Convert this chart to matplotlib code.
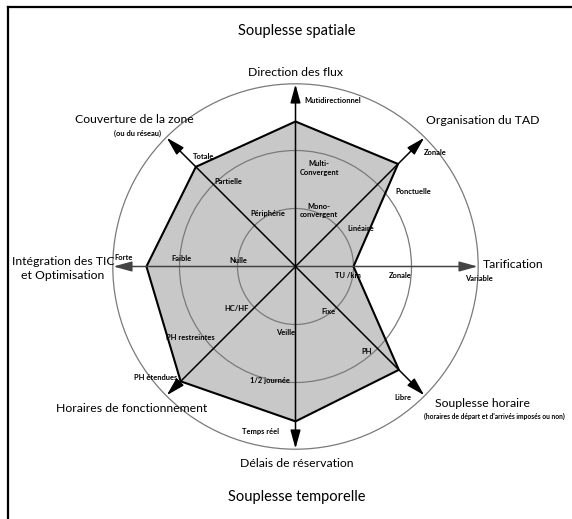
import numpy as np
import matplotlib.pyplot as plt
from matplotlib.patches import Circle, Polygon
from matplotlib.lines import Line2D

plt.rcParams['font.family'] = ['Lato', 'DejaVu Sans']

# axes of the radar, clockwise from the top
angles_deg = [90, 45, 0, -45, -90, -135, 180, 135]
# score of the service on each axis (1 ring = 1 level)
scores = [2.5, 2.5, 1.0, 2.52, 2.67, 2.8, 2.57, 2.43]
rings = [1.0, 2.0, 3.15]

axis_titles = ["Direction des flux", "Organisation du TAD", "Tarification",
               "Souplesse horaire", "Délais de réservation",
               "Horaires de fonctionnement", "Intégration des TIC\net Optimisation",
               "Couverture de la zone"]
level_labels = ["Mutidirectionnel", "Multi-\nConvergent", "Mono-\nconvergent",
                "Zonale", "Ponctuelle", "Linéaire",
                "Variable", "Zonale", "TU /km",
                "Libre", "PH", "Fixe",
                "Temps réel", "1/2 journée", "Veille",
                "PH étendues", "PH restreintes", "HC/HF",
                "Forte", "Faible", "Nulle",
                "Totale", "Partielle", "Périphérie"]

U = 58.0  # pixels per ring
cx, cy = 295.5, 266.5
W, H = 572, 519

fig = plt.figure(figsize=(W / 100, H / 100), dpi=100)
ax = fig.add_axes([0, 0, 1, 1])
ax.set_xlim(-cx / U, (W - cx) / U)
ax.set_ylim(-(H - cy) / U, cy / U)
ax.axis('off')

# frame (top and left edges only)
fig.add_artist(Line2D([7.7 / W, 1], [1 - 6.5 / H] * 2, color='black', lw=1.6,
                      transform=fig.transFigure))
fig.add_artist(Line2D([7.7 / W] * 2, [0, 1 - 6.5 / H], color='black', lw=1.6,
                      transform=fig.transFigure))

th = np.radians(angles_deg)
pts = np.column_stack([np.array(scores) * np.cos(th), np.array(scores) * np.sin(th)])
ax.add_patch(Polygon(pts, closed=True, facecolor='#c8c8c8', edgecolor='none', zorder=1))
for r in rings:
    ax.add_patch(Circle((0, 0), r, fill=False, edgecolor='#7a7a7a', lw=0.9, zorder=2))
ax.add_patch(Polygon(pts, closed=True, facecolor='none', edgecolor='black', lw=1.5, zorder=3))

for a in th:
    tip = (3.14 * np.cos(a), 3.14 * np.sin(a))
    col = '#444444' if abs(np.sin(a)) < 1e-6 else 'black'
    ax.annotate('', xy=tip, xytext=(0, 0),
                arrowprops=dict(arrowstyle='-|>,head_length=0.8,head_width=0.22',
                                color=col, lw=1.1, mutation_scale=14,
                                shrinkA=0, shrinkB=0), zorder=4)

big = 8.8
small = 5.4
title_pos = [(0, 3.35, 'center'), (3.22, 2.51, 'center'), (3.23, 0.04, 'left'),
             (3.22, -2.37, 'center'), (0.02, -3.39, 'center'), (-2.82, -2.44, 'center'),
             (-4.01, -0.03, 'center'), (-2.77, 2.53, 'center')]
for t, (x, y, ha) in zip(axis_titles, title_pos):
    ax.text(x, y, t, fontsize=big, ha=ha, va='center', linespacing=1.3, zorder=5)

ax.text(-2.73, 2.30, "(ou du réseau)", fontsize=small, fontweight='bold',
        ha='center', va='center', zorder=5)
ax.text(2.22, -2.59, "(horaires de départ et d'arrivés imposés ou non)", fontsize=4.8,
        fontweight='bold', ha='left', va='center', zorder=5)

level_pos = [(0.16, 2.87, 'left'), (0.41, 1.70, 'center'), (0.40, 0.97, 'center'),
             (2.41, 1.96, 'center'), (2.03, 1.30, 'center'), (1.13, 0.66, 'center'),
             (3.16, -0.20, 'center'), (1.80, -0.15, 'center'), (0.91, -0.15, 'center'),
             (1.85, -2.25, 'center'), (1.22, -1.47, 'center'), (0.56, -0.78, 'center'),
             (-0.61, -2.84, 'center'), (-0.44, -1.96, 'center'), (-0.18, -1.13, 'center'),
             (-2.42, -1.91, 'center'), (-1.82, -1.22, 'center'), (-1.01, -0.72, 'center'),
             (-2.96, 0.15, 'center'), (-1.96, 0.13, 'center'), (-0.99, 0.11, 'center'),
             (-1.59, 1.89, 'center'), (-1.16, 1.47, 'center'), (-0.47, 0.92, 'center')]
for t, (x, y, ha) in zip(level_labels, level_pos):
    ax.text(x, y, t, fontsize=small, fontweight='bold', ha=ha, va='center',
            linespacing=1.2, zorder=5)

ax.text(0.02, 4.06, "Souplesse spatiale", fontsize=10.5, ha='center', va='center')
ax.text(0.02, -3.97, "Souplesse temporelle", fontsize=10.5, ha='center', va='center')

fig.savefig('out.png', dpi=100)
